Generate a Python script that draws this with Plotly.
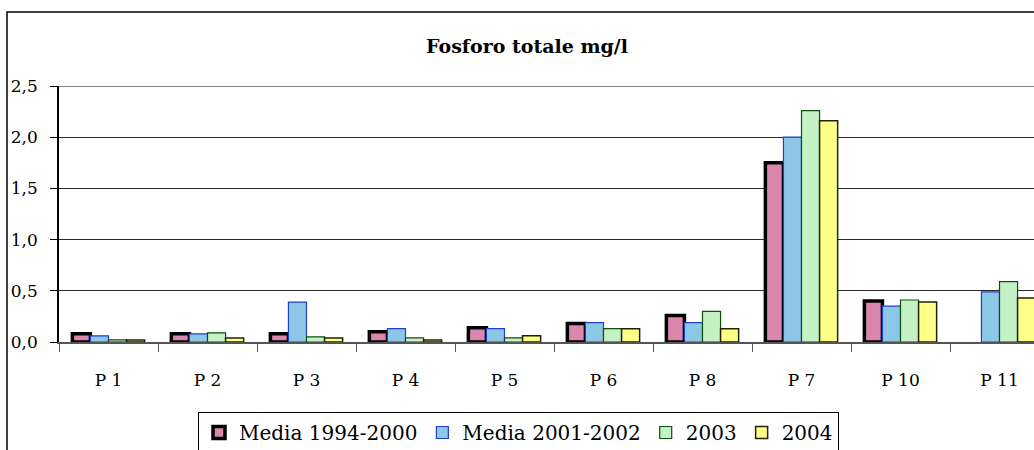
import plotly.graph_objects as go

# Fosforo totale (mg/l) per punto di prelievo
stazioni = ["P 1", "P 2", "P 3", "P 4", "P 5", "P 6", "P 8", "P 7", "P 10", "P 11"]
media_1994_2000 = [0.08, 0.08, 0.08, 0.10, 0.14, 0.18, 0.26, 1.75, 0.40, None]
media_2001_2002 = [0.06, 0.08, 0.39, 0.13, 0.13, 0.19, 0.19, 2.00, 0.35, 0.49]
anno_2003 = [0.02, 0.09, 0.05, 0.04, 0.04, 0.13, 0.30, 2.26, 0.41, 0.59]
anno_2004 = [0.02, 0.04, 0.04, 0.02, 0.06, 0.13, 0.13, 2.16, 0.39, 0.43]

y_ticks = [0, 0.5, 1.0, 1.5, 2.0, 2.5]
y_ticktext = ["0,0", "0,5", "1,0", "1,5", "2,0", "2,5"]

FONT = "DejaVu Serif"

series = [
    ("Media 1994-2000", media_1994_2000, "#DB86AE", "#000000", 3.5),
    ("Media 2001-2002", media_2001_2002, "#8CC8E6", "#1F3FD0", 1.2),
    ("2003", anno_2003, "#C4F2C4", "#0E4E0E", 1.2),
    ("2004", anno_2004, "#FFFF88", "#222200", 1.5),
]

fig = go.Figure()
for name, vals, fill, edge, lw in series:
    fig.add_trace(go.Bar(
        x=stazioni, y=vals, name=name,
        marker=dict(color=fill, line=dict(color=edge, width=lw)),
    ))

# plot area: x 59 -> 1049 (clipped at 1034), y 86 -> 342
W, H = 1034, 450
left, top, bottom = 59, 86, 342
n_vis = (W - left) / 99.0

fig.update_layout(
    template="none",
    width=W, height=H,
    margin=dict(l=left, r=0, t=top, b=H - bottom, pad=0),
    paper_bgcolor="white", plot_bgcolor="white",
    barmode="group", bargap=0.27, bargroupgap=0,
    font=dict(family=FONT, size=17, color="black"),
    title=dict(
        text="<b>Fosforo totale mg/l</b>",
        font=dict(family=FONT, size=19, color="black"),
        xref="container", x=527 / W, xanchor="center",
        yref="container", y=1 - 46 / H, yanchor="middle",
    ),
    showlegend=True,
    legend=dict(
        orientation="h",
        xref="container", x=198 / W, xanchor="left",
        yref="container", y=1 - 412 / H, yanchor="top",
        bordercolor="black", borderwidth=1, bgcolor="white",
        font=dict(family=FONT, size=20, color="black"),
        itemwidth=30, traceorder="normal",
    ),
    xaxis=dict(
        type="category", range=[-0.5, -0.5 + n_vis],
        tickson="boundaries", ticks="outside", ticklen=8, tickcolor="#555555",
        showline=True, linecolor="#555555", linewidth=1.5,
        showgrid=False, zeroline=False, automargin=False,
        ticklabelstandoff=22, tickfont=dict(family=FONT, size=17),
    ),
    yaxis=dict(
        range=[0, 2.5], tickvals=y_ticks, ticktext=y_ticktext,
        ticks="outside", ticklen=7, tickcolor="black",
        showline=True, linecolor="black", linewidth=1.5,
        showgrid=True, gridcolor="#2a2a2a", gridwidth=1,
        zeroline=False, automargin=False,
        ticklabelstandoff=9, tickfont=dict(family=FONT, size=17),
    ),
)

# gray top edge of the plot area
fig.add_shape(type="line", xref="paper", yref="y", x0=0, x1=1, y0=2.5, y1=2.5,
              line=dict(color="#888888", width=2))

# outer chart frame (left and top edges visible, the rest falls off the page)
fx0 = (7 - left) / (W - left)
fy1 = (bottom - 12) / (bottom - top)
fig.add_shape(type="rect", xref="paper", yref="paper",
              x0=fx0, x1=1.5, y0=-2, y1=fy1,
              line=dict(color="black", width=1.5), layer="below")

# drop the default body margin so the figure sits at the page corner
fig.write_html("out.html", config={"displayModeBar": False},
               post_script="document.body.style.margin='0';document.body.style.overflow='hidden';")
